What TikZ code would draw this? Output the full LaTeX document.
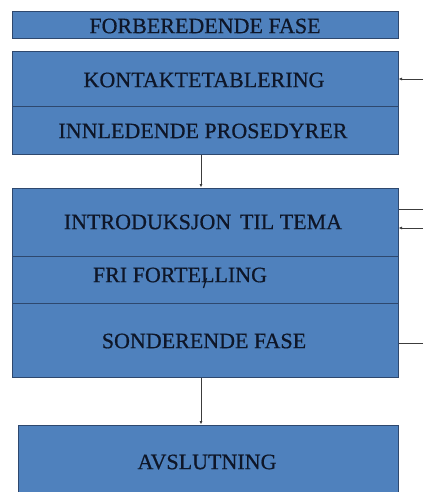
\documentclass[tikz,border=0pt]{standalone}
\usepackage{fontspec}
\setmainfont{Liberation Serif}
\newfontfamily\boxfont[FakeBold=0.6]{Liberation Serif}
\usetikzlibrary{arrows.meta}
\definecolor{boxfill}{RGB}{79,129,189}
\definecolor{boxline}{RGB}{46,72,110}
\definecolor{boxtext}{RGB}{14,22,40}
\definecolor{conn}{RGB}{60,60,60}
\tikzset{
  phase/.style={draw=boxline, line width=1pt, fill=boxfill, minimum width=386pt, inner sep=0pt},
  lbl/.style={inner sep=0pt, text=boxtext, font=\boxfont\fontsize{22}{24}\selectfont},
  conn/.style={draw=conn, line width=0.8pt},
  tip/.style={-{Latex[length=3.5pt,width=3pt]}}
}
\begin{document}
\begin{tikzpicture}[x=1pt,y=-1pt]
\useasboundingbox (0,0) rectangle (423,492);
\clip (0,0) rectangle (423,492);
\node[phase, minimum height=27pt] (fase) at (205,25.5) {};
\node[lbl] (faset) at (205,26) {FORBEREDENDE FASE};
\node[phase, minimum height=55pt] (kont) at (205,79.5) {};
\node[lbl] (kontt) at (204,80) {KONTAKTETABLERING};
\node[phase, minimum height=47pt] (innl) at (205,130.5) {};
\node[lbl] (innlt) at (203,131) {INNLEDENDE PROSEDYRER};
\node[phase, minimum height=68pt] (intro) at (205,222) {};
\node[lbl] (introt) at (203,222) {INTRODUKSJON\hspace{0.15em} TIL TEMA};
\node[phase, minimum height=47pt] (fri) at (205,279.5) {};
\node[lbl] (frit) at (180,275) {FRI FORTELLING};
\node[phase, minimum height=74pt] (sond) at (205,340) {};
\node[lbl] (sondt) at (204,341) {SONDERENDE FASE};
\node[phase, minimum width=380pt, minimum height=80pt] (avsl) at (208,465) {};
\node[lbl] (avslt) at (207,462) {AVSLUTNING};
% cursor mark
\draw[boxtext, line width=1.3pt] (203.5,288) -- (206.5,278);
% vertical connectors
\draw[conn, tip] (innl.south -| 201,0) -- (intro.north -| 201,0);
\draw[conn, tip] (sond.south -| 201,0) -- (avsl.north -| 201,0);
% right side connectors
\coordinate (r1) at (423,79);
\coordinate (r2) at (423,209);
\coordinate (r3) at (423,228);
\coordinate (r4) at (423,343);
\draw[conn, tip] (r1) -- (r1 -| kont.east);
\draw[conn] (r2) -- (r2 -| intro.east);
\draw[conn, tip] (r3) -- (r3 -| intro.east);
\draw[conn] (r4) -- (r4 -| sond.east);
\end{tikzpicture}
\end{document}
